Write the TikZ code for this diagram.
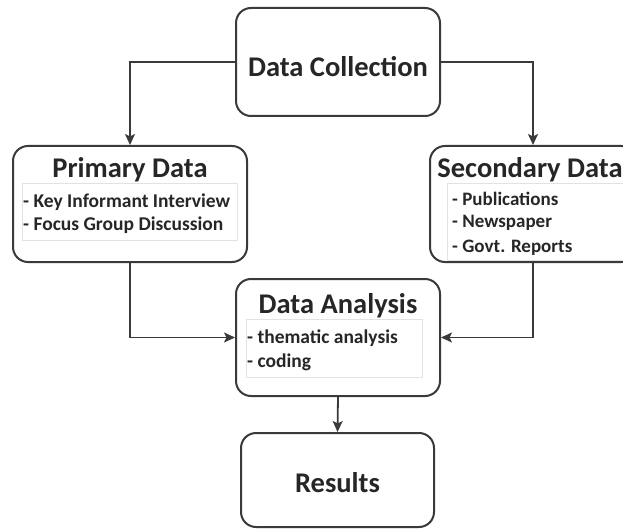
\documentclass[tikz,border=0pt]{standalone}
\usepackage{fontspec}
\setmainfont{Carlito}
\usetikzlibrary{arrows.meta}
\definecolor{linec}{HTML}{3A3A3A}
\definecolor{txtc}{HTML}{262626}
\definecolor{innerc}{HTML}{E2E2E2}
\tikzset{
  box/.style={draw=linec, line width=2pt, rounded corners=15pt, fill=white, inner sep=0pt},
  inner/.style={draw=innerc, line width=0.8pt, inner sep=0pt},
  title/.style={anchor=base, text=txtc, font=\fontsize{28.5}{32}\selectfont\bfseries, inner sep=0pt},
  item/.style={anchor=base west, text=txtc, font=\fontsize{19}{22}\selectfont\bfseries, inner sep=0pt},
  arr/.style={draw=linec, line width=1.8pt, -{Stealth[length=11pt,width=10pt,inset=2.5pt]}}
}
\begin{document}
\begin{tikzpicture}[x=1pt,y=-1pt]
\useasboundingbox (0,0) rectangle (623,529);
% boxes
\node[box, minimum width=204, minimum height=108] (dc) at (338,62) {};
\node[box, minimum width=234, minimum height=116] (pd) at (130,204) {};
\node[box, minimum width=206, minimum height=116] (sd) at (533,204) {};
\node[box, minimum width=204, minimum height=117] (da) at (338,337.5) {};
\node[box, minimum width=193, minimum height=94] (res) at (337.5,480) {};
% inner boxes
\node[inner, minimum width=215, minimum height=57] (pdi) at (129.5,211.5) {};
\node[inner, minimum width=190, minimum height=77] (sdi) at (542,221.5) {};
\node[inner, minimum width=176, minimum height=58] (dai) at (334,348) {};
% titles
\node[title] (dct) at (338,77) {Data Collection};
\node[title] (pdt) at (130,178) {Primary Data};
\node[title] (sdt) at (530,178) {Secondary Data};
\node[title] (dat) at (338,313) {Data Analysis};
\node[title] (rest) at (337.5,492) {Results};
% items
\node[item, font=\fontsize{19.5}{22}\selectfont\bfseries] (p1) at (23,208) {- Key Informant Interview};
\node[item, font=\fontsize{19.5}{22}\selectfont\bfseries] (p2) at (23,230) {- Focus Group Discussion};
\node[item] (s1) at (452,206) {- Publications};
\node[item] (s2) at (452,228) {- Newspaper};
\node[item] (s3) at (452,252) {- Govt. Reports};
\node[item, font=\fontsize{19.5}{22}\selectfont\bfseries] (d1) at (247,343) {- thematic analysis};
\node[item, font=\fontsize{19.5}{22}\selectfont\bfseries] (d2) at (247,367) {- coding};
% connectors
\draw[arr] (dc.west) -| (pd.north);
\draw[arr] (dc.east) -| (sd.north);
\draw[arr] (pd.south) |- (da.west);
\draw[arr] (sd.south) |- (da.east);
\draw[arr] (da.south) -- (res.north);
\end{tikzpicture}
\end{document}
